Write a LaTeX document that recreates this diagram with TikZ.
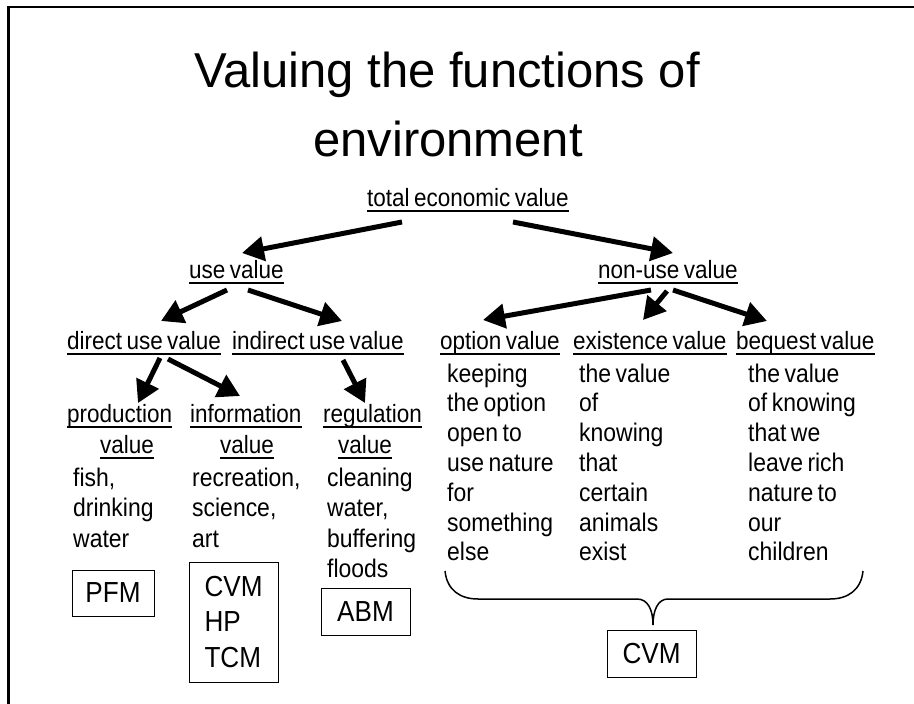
\documentclass[tikz,border=0pt]{standalone}
\usepackage{fontspec}
\setmainfont{Liberation Sans}
\newfontfamily\bodyfont[FakeStretch=0.9,WordSpace=0.7]{Liberation Sans}
\usetikzlibrary{arrows.meta}
\tikzset{
  titletext/.style={font=\fontsize{49}{58}\selectfont, inner sep=0pt, anchor=base},
  hd/.style={font=\bodyfont\fontsize{25}{30}\selectfont, inner sep=0pt, anchor=base west},
  txt/.style={font=\bodyfont\fontsize{25.5}{30}\selectfont, inner sep=0pt, anchor=base west},
  ulline/.style={line width=2pt},
  arr/.style={line width=5pt, -{Triangle[length=22pt,width=24pt]}},
  methodbox/.style={draw, line width=1pt, inner sep=0pt, font=\bodyfont\fontsize{29}{35.5}\selectfont, minimum width=89pt, minimum height=47pt},
  bracepath/.style={line width=1.5pt}
}
\newcommand\myhead[3]{%
  \node[hd] (#1) at (#2) {#3};
  \draw[ulline] ([yshift=-4.5pt]#1.base west) -- ([yshift=-4.5pt]#1.base east);}
\begin{document}
\begin{tikzpicture}[x=1pt,y=-1pt]
\useasboundingbox (0,0) rectangle (914,704);
% frame
\draw[line width=2.5pt] (8.5,704) -- (8.5,7) -- (914,7);
% title
\node[titletext] (t1) at (447,87) {Valuing the functions of};
\node[titletext] (t2) at (448,156) {environment};
% headings
\myhead{tev}{367,206}{total economic value}
\myhead{use}{189,278}{use value}
\myhead{nonuse}{598,278}{non-use value}
\myhead{direct}{67,349}{direct use value}
\myhead{indirect}{232,349}{indirect use value}
\myhead{option}{440,349}{option value}
\myhead{existence}{573,349}{existence value}
\myhead{bequest}{736,349}{bequest value}
\myhead{prod}{67,422}{production}
\myhead{prodv}{100,453}{value}
\myhead{info}{190,422}{information}
\myhead{infov}{220,453}{value}
\myhead{reg}{323,422}{regulation}
\myhead{regv}{338,453}{value}
% arrows
\draw[arr] ([shift={(35,16)}]tev.base west) -- ([shift={(53,-25)}]use.base west);
\draw[arr] ([shift={(146,16)}]tev.base west) -- ([shift={(75,-25)}]nonuse.base west);
\draw[arr] ([shift={(38,12)}]use.base west) -- ([shift={(94,-28)}]direct.base west);
\draw[arr] ([shift={(59,12)}]use.base west) -- ([shift={(110,-28)}]indirect.base west);
\draw[arr] ([shift={(53,12)}]nonuse.base west) -- ([shift={(43,-29)}]option.base west);
\draw[arr] ([shift={(69,13)}]nonuse.base west) -- ([shift={(70,-29)}]existence.base west);
\draw[arr] ([shift={(75,12)}]nonuse.base west) -- ([shift={(31,-28)}]bequest.base west);
\draw[arr] ([shift={(93,9)}]direct.base west) -- ([shift={(71,-19)}]prod.base west);
\draw[arr] ([shift={(101,10)}]direct.base west) -- ([shift={(50,-26)}]info.base west);
\draw[arr] ([shift={(111,11)}]indirect.base west) -- ([shift={(42,-19)}]reg.base west);
% descriptions
\foreach \t [count=\i] in {{fish,},drinking,water}
  \node[txt] (fish\i) at (73,{486+(\i-1)*30.5}) {\t};
\foreach \t [count=\i] in {{recreation,},{science,},art}
  \node[txt] (rec\i) at (192,{486+(\i-1)*30.5}) {\t};
\foreach \t [count=\i] in {cleaning,{water,},buffering,floods}
  \node[txt] (clean\i) at (327,{486+(\i-1)*30.5}) {\t};
\foreach \t [count=\i] in {keeping,the option,open to,use nature,for,something,else}
  \node[txt] (opt\i) at (447,{382+(\i-1)*29.8}) {\t};
\foreach \t [count=\i] in {the value,of,knowing,that,certain,animals,exist}
  \node[txt] (ex\i) at (579,{382+(\i-1)*29.8}) {\t};
\foreach \t [count=\i] in {the value,of knowing,that we,leave rich,nature to,our,children}
  \node[txt] (beq\i) at (748,{382+(\i-1)*29.8}) {\t};
% method boxes
\node[methodbox, minimum width=82pt, minimum height=46pt] (pfm) at (113,593) {PFM};
\node[methodbox, minimum height=120pt, align=left] (cvmhp) at (233.5,622) {CVM\\HP\\TCM};
\node[methodbox] (abm) at (365.5,611.5) {ABM};
\node[methodbox] (cvm) at (651.5,653.5) {CVM};
% brace
\draw[bracepath] (445,571) .. controls (447,590) and (460,599) .. (478,599)
  -- (637,599) .. controls (648,599) and (653,610) .. (653,625);
\draw[bracepath] (653,625) .. controls (653,610) and (658,599) .. (668,599)
  -- (830,599) .. controls (848,599) and (861,590) .. (863,571);
\end{tikzpicture}
\end{document}
